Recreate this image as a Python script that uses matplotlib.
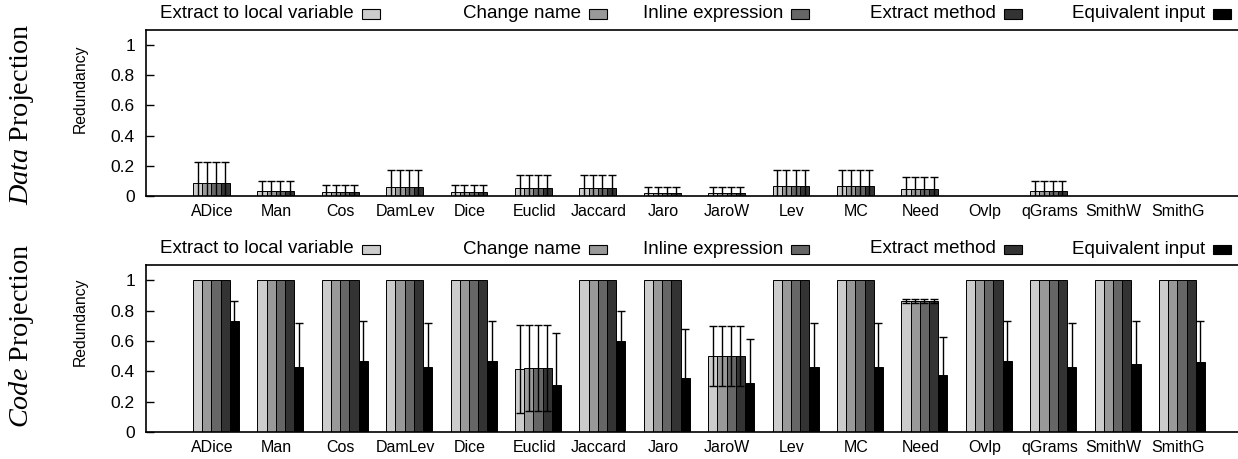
import matplotlib
matplotlib.use('Agg')
import matplotlib.pyplot as plt
import numpy as np
from matplotlib.patches import Rectangle

plt.rcParams['font.family'] = ['Liberation Sans', 'DejaVu Sans']
plt.rcParams['mathtext.fontset'] = 'custom'
plt.rcParams['mathtext.rm'] = 'Liberation Serif'
plt.rcParams['mathtext.it'] = 'Liberation Serif:italic'

categories = ['ADice', 'Man', 'Cos', 'DamLev', 'Dice', 'Euclid', 'Jaccard', 'Jaro',
              'JaroW', 'Lev', 'MC', 'Need', 'Ovlp', 'qGrams', 'SmithW', 'SmithG']
series_names = ['Extract to local variable', 'Change name', 'Inline expression',
                'Extract method', 'Equivalent input']
colors = ['#cccccc', '#999999', '#666666', '#333333', '#000000']
y_ticks = [0, 0.2, 0.4, 0.6, 0.8, 1]
y_tick_labels = ['0', '0.2', '0.4', '0.6', '0.8', '1']

# ---- Data projection (top) ----
data_refactor_mean = [0.084, 0.035, 0.026, 0.062, 0.026, 0.051, 0.051, 0.020,
                      0.020, 0.064, 0.064, 0.046, 0.0, 0.033, 0.0, 0.0]
data_refactor_err = [0.143, 0.062, 0.044, 0.108, 0.049, 0.086, 0.086, 0.037,
                     0.037, 0.106, 0.106, 0.082, 0.0, 0.064, 0.0, 0.0]
data_equiv_mean = [0.0] * 16
data_equiv_err = [0.0] * 16

# ---- Code projection (bottom) ----
code_extract_var_mean = [1, 1, 1, 1, 1, 0.413, 1, 1, 0.5, 1, 1, 0.862, 1, 1, 1, 1]
code_extract_var_err = [0, 0, 0, 0, 0, 0.29, 0, 0, 0.2, 0, 0, 0.013, 0, 0, 0, 0]
code_change_name_mean = [1, 1, 1, 1, 1, 0.422, 1, 1, 0.5, 1, 1, 0.862, 1, 1, 1, 1]
code_change_name_err = [0, 0, 0, 0, 0, 0.285, 0, 0, 0.2, 0, 0, 0.013, 0, 0, 0, 0]
code_inline_mean = [1, 1, 1, 1, 1, 0.422, 1, 1, 0.5, 1, 1, 0.862, 1, 1, 1, 1]
code_inline_err = [0, 0, 0, 0, 0, 0.285, 0, 0, 0.2, 0, 0, 0.013, 0, 0, 0, 0]
code_extract_method_mean = [1, 1, 1, 1, 1, 0.422, 1, 1, 0.5, 1, 1, 0.862, 1, 1, 1, 1]
code_extract_method_err = [0, 0, 0, 0, 0, 0.285, 0, 0, 0.2, 0, 0, 0.013, 0, 0, 0, 0]
code_equiv_mean = [0.732, 0.429, 0.466, 0.429, 0.466, 0.308, 0.598, 0.354,
                   0.321, 0.429, 0.429, 0.374, 0.466, 0.429, 0.448, 0.459]
code_equiv_err = [0.132, 0.29, 0.268, 0.29, 0.268, 0.343, 0.202, 0.323,
                  0.29, 0.29, 0.29, 0.255, 0.268, 0.29, 0.286, 0.275]

W, H = 1238, 459
fig = plt.figure(figsize=(W / 100, H / 100), dpi=100)

def px_axes(left, top, right, bottom):
    return fig.add_axes([left / W, 1 - bottom / H, (right - left) / W, (bottom - top) / H])

ax_top = px_axes(146, 30, 1238, 196)
ax_bot = px_axes(146, 265, 1238, 432)

bar_w = 0.143
idx = np.arange(len(categories))

def draw(ax, means, errs, legend_y, ylabel_y, big_label, big_y):
    for k, (m, e) in enumerate(zip(means, errs)):
        m = np.asarray(m, float)
        e = np.asarray(e, float)
        x = idx + (k - 2) * bar_w
        ax.bar(x, m, bar_w, color=colors[k], edgecolor='black', linewidth=0.7, zorder=2)
        mask = e > 0
        if mask.any():
            ax.errorbar(x[mask], m[mask], yerr=e[mask], fmt='none', ecolor='black',
                        elinewidth=1.0, capsize=3.2, capthick=1.0, zorder=3)
    ax.set_xlim(-1.087, 15.87)
    ax.set_ylim(0, 1.1)
    ax.set_yticks(y_ticks)
    ax.set_yticklabels(y_tick_labels)
    ax.set_xticks(idx - 0.06)
    ax.set_xticklabels(categories)
    ax.spines['right'].set_visible(False)
    for s in ['left', 'top', 'bottom']:
        ax.spines[s].set_linewidth(1.2)
    ax.tick_params(axis='y', direction='in', length=6, width=1, labelsize=12.5, pad=8)
    ax.tick_params(axis='x', length=0, labelsize=11.5, pad=6)
    fig.text(80 / W, 1 - ylabel_y / H, 'Redundancy', rotation=90, ha='center',
             va='center', fontsize=11.3)
    # legend row above the axes (gnuplot-style: text then sample box)
    box_cx = [371, 598, 800, 1013, 1222]
    for k, name in enumerate(series_names):
        cx = box_cx[k]
        fig.text((cx - 9 - 8) / W, 1 - legend_y / H, name, ha='right', va='center',
                 fontsize=13.5)
        fig.add_artist(Rectangle(((cx - 9) / W, 1 - (legend_y + 4.5) / H), 18 / W, 9 / H,
                                 transform=fig.transFigure, facecolor=colors[k],
                                 edgecolor='black', linewidth=0.8))
    # big side label
    fig.text(22 / W, 1 - big_y / H, big_label, rotation=90, ha='center',
             va='center', fontsize=20.3, family='Liberation Serif')

draw(ax_top,
     [data_refactor_mean, data_refactor_mean, data_refactor_mean, data_refactor_mean, data_equiv_mean],
     [data_refactor_err, data_refactor_err, data_refactor_err, data_refactor_err, data_equiv_err],
     14, 89, r'$\mathit{Data}$ Projection', 114)
draw(ax_bot,
     [code_extract_var_mean, code_change_name_mean, code_inline_mean, code_extract_method_mean, code_equiv_mean],
     [code_extract_var_err, code_change_name_err, code_inline_err, code_extract_method_err, code_equiv_err],
     249, 322, r'$\mathit{Code}$ Projection', 336)

fig.savefig('out.png', dpi=100)
